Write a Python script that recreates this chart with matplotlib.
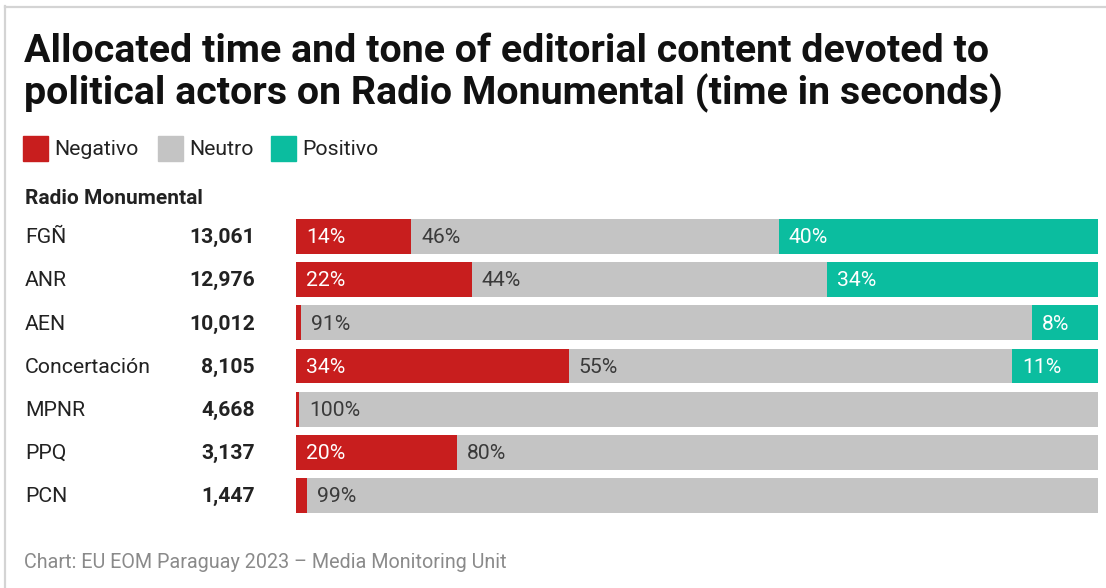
import matplotlib
matplotlib.use("Agg")
import matplotlib.pyplot as plt
import matplotlib.transforms as mtransforms
from matplotlib.lines import Line2D
from matplotlib.patches import Rectangle

plt.rcParams['font.family'] = ['Roboto', 'DejaVu Sans']

# data (shares in %)
actors = ['FGÑ', 'ANR', 'AEN', 'Concertación', 'MPNR', 'PPQ', 'PCN']
totals = [13061, 12976, 10012, 8105, 4668, 3137, 1447]
negativo = [14.4, 21.9, 0.6, 34.0, 0.4, 20.1, 1.4]
neutro = [45.8, 44.3, 91.2, 55.3, 99.6, 79.9, 98.6]
positivo = [39.8, 33.8, 8.2, 10.7, 0.0, 0.0, 0.0]

series = ['Negativo', 'Neutro', 'Positivo']
colors = ['#c81e1e', '#c4c4c4', '#0bbd9f']
label_colors = ['white', '#3a3a3a', 'white']

W, H = 1106, 588
fig = plt.figure(figsize=(W / 100, H / 100), dpi=100)
fig.patch.set_facecolor('white')

def fx(px):
    return px / W

def fy(py):
    return 1 - py / H

# light frame on the left and top
fig.add_artist(Line2D([fx(5), fx(5)], [fy(6), 0], color='#d4d4d4', lw=1.6))
fig.add_artist(Line2D([fx(5), 1], [fy(6.5), fy(6.5)], color='#d4d4d4', lw=1.6))

# title
fig.text(fx(24), fy(62), 'Allocated time and tone of editorial content devoted to',
         fontsize=28.4, fontweight='bold', color='#111111', va='baseline')
fig.text(fx(24), fy(104), 'political actors on Radio Monumental (time in seconds)',
         fontsize=28.4, fontweight='bold', color='#111111', va='baseline')

# legend
leg_x = [23, 158, 271]
for name, col, x in zip(series, colors, leg_x):
    fig.add_artist(Rectangle((fx(x), fy(161)), 25 / W, 25 / H, color=col,
                             transform=fig.transFigure))
    fig.text(fx(x + 31), fy(155), name, fontsize=15.3, color='#222222', va='baseline')

fig.text(fx(25), fy(204), 'Radio Monumental', fontsize=15, fontweight='bold',
         color='#222222', va='baseline')

# bars
ax = fig.add_axes([fx(296), fy(513), (1098 - 296) / W, (513 - 219) / H])
n = len(actors)
ys = list(range(n))
h = 35 / 43.17
left = [0.0] * n
for vals, col, tcol in zip([negativo, neutro, positivo], colors, label_colors):
    ax.barh(ys, vals, left=left, height=h, color=col, linewidth=0)
    for i, v in enumerate(vals):
        if v >= 3:
            ax.text(left[i] + 10 * 100 / 802, i + 0.155, f'{v:.0f}%', fontsize=15.2,
                    color=tcol, va='baseline', ha='left')
    left = [a + b for a, b in zip(left, vals)]

ax.set_xlim(0, 100)
ax.set_ylim(n - 1 + h / 2, -h / 2)
ax.axis('off')

tr = mtransforms.blended_transform_factory(fig.transFigure, ax.transData)
for i, (a, t) in enumerate(zip(actors, totals)):
    ax.text(fx(25), i + 0.155, a, transform=tr, fontsize=15.3, color='#222222',
            va='baseline', ha='left')
    ax.text(fx(255), i + 0.155, f'{t:,}', transform=tr, fontsize=15.2,
            fontweight='bold', color='#222222', va='baseline', ha='right')

fig.text(fx(24), fy(568), 'Chart: EU EOM Paraguay 2023 – Media Monitoring Unit',
         fontsize=14.2, color='#8a8a8a', va='baseline')

fig.savefig('out.png', dpi=100, facecolor='white')
